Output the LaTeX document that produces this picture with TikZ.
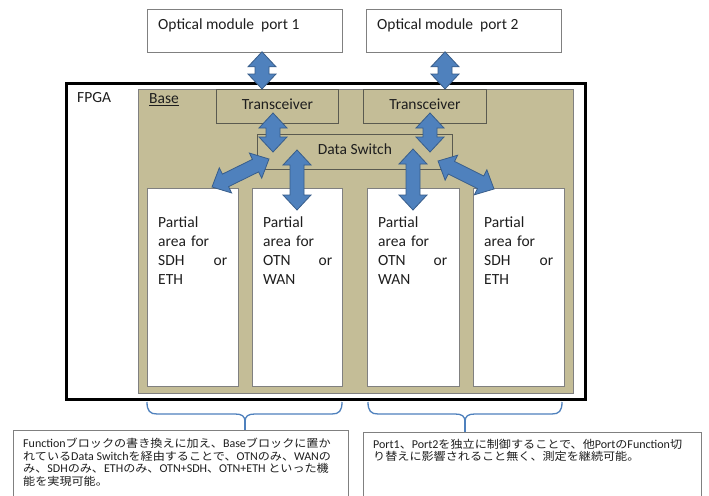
\documentclass[tikz,border=0pt]{standalone}
\usepackage{fontspec}
\setmainfont{Carlito}
\newfontfamily\jpfont[FakeStretch=1.1]{Noto Sans CJK JP}
\usetikzlibrary{calc}

\definecolor{basetan}{RGB}{196,189,151}
\definecolor{flowfill}{RGB}{79,129,189}
\definecolor{flowedge}{RGB}{56,93,138}
\definecolor{edgegray}{RGB}{128,128,128}
\definecolor{darkedge}{RGB}{90,90,80}
\definecolor{inkgray}{RGB}{30,30,30}

% Latin words inside the Japanese notes
\newcommand\lt[1]{{\normalfont\fontsize{12}{13}\selectfont #1}}

% double-headed block arrow between two named points
\newcommand\dblarrow[2]{%
  \coordinate (hA) at ($(#1)!15pt!(#2)$);
  \coordinate (hB) at ($(#2)!15pt!(#1)$);
  \filldraw[flow] (#1)
    -- ($(hA)!14pt!90:(#2)$) -- ($(hA)!7pt!90:(#2)$)
    -- ($(hB)!7pt!-90:(#1)$) -- ($(hB)!14pt!-90:(#1)$)
    -- (#2)
    -- ($(hB)!14pt!90:(#1)$) -- ($(hB)!7pt!90:(#1)$)
    -- ($(hA)!7pt!-90:(#2)$) -- ($(hA)!14pt!-90:(#2)$)
    -- cycle;}

\begin{document}
\begin{tikzpicture}[x=1pt,y=-1pt,
  every node/.style={text=inkgray, inner sep=0pt},
  plainbox/.style={draw=edgegray, line width=0.8pt, fill=white, anchor=north west},
  tanbox/.style={draw=darkedge, line width=0.8pt, fill=basetan, anchor=north west},
  label16/.style={font=\fontsize{15.5}{19}\selectfont},
  ptext/.style={font=\fontsize{15.5}{19}\selectfont, text width=69pt, align=left, anchor=north west},
  jtext/.style={font=\jpfont\fontsize{11}{12.5}\selectfont, align=left, anchor=north west},
  flow/.style={fill=flowfill, draw=flowedge, line width=0.8pt},
  brace/.style={draw=flowfill, line width=1.3pt}]
\useasboundingbox (0,0) rectangle (709,495);
\clip (0,0) rectangle (709,495);
\fill[white] (0,0) rectangle (709,495);

% optical modules
\node[plainbox, minimum width=195pt, minimum height=43pt] (op1) at (147,9) {};
\node[plainbox, minimum width=195pt, minimum height=43pt] (op2) at (366,9) {};
\node[label16, anchor=west] (op1t) at ($(op1.north west)+(11,16)$) {Optical module\ \ port 1};
\node[label16, anchor=west] (op2t) at ($(op2.north west)+(11,16)$) {Optical module\ \ port 2};

% FPGA and base region
\node[draw=black, line width=2.5pt, fill=white, anchor=north west,
      minimum width=519pt, minimum height=316pt] (fpga) at (65,82) {};
\node[label16, anchor=west] (fpgat) at (77,98) {FPGA};
\node[draw=edgegray, line width=0.8pt, fill=basetan, anchor=north west,
      minimum width=435pt, minimum height=304pt] (base) at (138,89) {};
\node[label16, anchor=west] (baset) at (149,100) {\underline{Base}};

% transceivers and data switch
\node[tanbox, minimum width=122pt, minimum height=34pt] (tr1) at (216,89) {};
\node[tanbox, minimum width=123pt, minimum height=34pt] (tr2) at (363,89) {};
\node[label16] at ($(tr1.center)+(0,-2)$) {Transceiver};
\node[label16] at ($(tr2.center)+(0,-2)$) {Transceiver};
\node[tanbox, minimum width=195pt, minimum height=35pt] (ds) at (257,134) {};
\node[label16] at ($(ds.center)+(0,-3)$) {Data Switch};

% partial areas
\node[plainbox, minimum width=91pt, minimum height=198pt] (p1) at (147,188) {};
\node[plainbox, minimum width=90pt, minimum height=198pt] (p2) at (252,188) {};
\node[plainbox, minimum width=92pt, minimum height=198pt] (p3) at (367,188) {};
\node[plainbox, minimum width=91pt, minimum height=198pt] (p4) at (473,188) {};
\node[ptext] at ($(p1.north west)+(11,29)$) {Partial\\area for\\SDH\hfill or\\ETH};
\node[ptext] at ($(p2.north west)+(11,29)$) {Partial\\area for\\OTN\hfill or\\WAN};
\node[ptext] at ($(p3.north west)+(11,29)$) {Partial\\area for\\OTN\hfill or\\WAN};
\node[ptext] at ($(p4.north west)+(11,29)$) {Partial\\area for\\SDH\hfill or\\ETH};

% arrow end points
\coordinate (o1) at ($(op1.south west)+(115,-1)$);
\coordinate (t1top) at (o1 |- tr1.north);
\coordinate (o2) at ($(op2.south west)+(79,-1)$);
\coordinate (t2top) at (o2 |- tr2.north);
\coordinate (t1bot) at (273,113);
\coordinate (d1) at (273,152);
\coordinate (t2bot) at (430,113);
\coordinate (d2) at (430,152);
\coordinate (d3) at (297,150);
\coordinate (q2) at (297,210);
\coordinate (d4) at (413,149);
\coordinate (q3) at (413,210);
\coordinate (d5) at (269,159);
\coordinate (q1) at (212,187);
\coordinate (d6) at (438,161);
\coordinate (q4) at (494,189);

\dblarrow{o1}{t1top}
\dblarrow{o2}{t2top}
\dblarrow{t1bot}{d1}
\dblarrow{t2bot}{d2}
\dblarrow{d3}{q2}
\dblarrow{d4}{q3}
\dblarrow{d5}{q1}
\dblarrow{d6}{q4}

% notes
\node[plainbox, minimum width=335pt, minimum height=80pt] (tb1) at (13,430) {};
\node[plainbox, minimum width=338pt, minimum height=80pt] (tb2) at (363,432) {};
\node[jtext] at ($(tb1.north west)+(10,8)$) {%
\lt{Function}ブロックの書き換えに加え、\lt{Base}ブロックに置か\\
れている\lt{Data Switch}を経由することで、\lt{OTN}のみ、\lt{WAN}の\\
み、\lt{SDH}のみ、\lt{ETH}のみ、\lt{OTN+SDH}、\lt{OTN+ETH} といった機\\
能を実現可能。};
\node[jtext] at ($(tb2.north west)+(10,7)$) {%
\lt{Port1}、\lt{Port2}を独立に制御することで、他\lt{Port}の\lt{Function}切\\
り替えに影響されること無く、測定を継続可能。};

% braces from the regions down to the notes
\coordinate (c1) at (245,414);
\coordinate (c2) at (465,414);
\draw[brace] (147,402) .. controls (147,411) and (150,414) .. (157,414) -- (235,414)
  .. controls (242,414) and (245,416) .. (245,422)
  .. controls (245,416) and (248,414) .. (255,414) -- (332,414)
  .. controls (339,414) and (342,411) .. (342,402);
\draw[brace] (245,420) -- (c1 |- tb1.north);
\draw[brace] (368,402) .. controls (368,411) and (371,414) .. (378,414) -- (455,414)
  .. controls (462,414) and (465,416) .. (465,422)
  .. controls (465,416) and (468,414) .. (475,414) -- (552,414)
  .. controls (559,414) and (562,411) .. (562,402);
\draw[brace] (465,420) -- (c2 |- tb2.north);
\end{tikzpicture}
\end{document}
